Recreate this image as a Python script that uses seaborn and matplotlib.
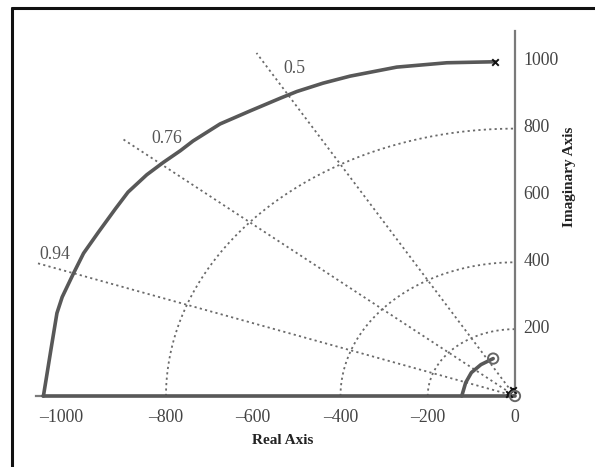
import numpy as np
import pandas as pd
import matplotlib
matplotlib.use("Agg")
import matplotlib.pyplot as plt
import seaborn as sns
from matplotlib.transforms import ScaledTranslation
from matplotlib.lines import Line2D

# ---- data ----
locus1_x = [-1081, -1075, -1064, -1050, -1038, -1012, -989, -955, -916, -887, -844, -806,
            -767, -738, -676, -607, -538, -500, -440, -378, -271, -156, -46]
locus1_y = [0, 48, 137, 248, 296, 367, 427, 490, 560, 610, 662, 699,
            734, 763, 814, 853, 891, 911, 936, 957, 984, 997, 1000]
real_locus_x = [-1081, 0]
real_locus_y = [0, 0]
locus2_x = [-122, -113, -100, -78, -50]
locus2_y = [0, 40, 70, 94, 112]
origin_locus_x = [-16, -10, -4]
origin_locus_y = [4, 12, 20]
poles_x = [-46, -14, -5]
poles_y = [1000, 6, 18]
zeros_x = [-50, 0]
zeros_y = [112, 0]
damping_ratios = [0.5, 0.76, 0.94]
damping_labels = ["0.5", "0.76", "0.94"]
damping_label_x = [-505, -797, -1054]
damping_label_y = [979, 770, 422]
wn_radii = [200, 400, 800]
xticks = [-1000, -800, -600, -400, -200, 0]
xtick_labels = ["\u20131000", "\u2013800", "\u2013600", "\u2013400", "\u2013200", "0"]
yticks = [200, 400, 600, 800, 1000]
ytick_labels = ["200", "400", "600", "800", "1000"]

sns.set_style("white")
plt.rcParams["font.family"] = ["Liberation Serif", "DejaVu Serif"]

fig = plt.figure(figsize=(5.95, 4.67), dpi=100)
ax = fig.add_axes([0.0605, 0.152, 0.805, 0.7816])

grid_col = "#6a6a6a"
dot_style = (0, (1.2, 1.8))

# natural-frequency arcs
t = np.linspace(0, np.pi / 2, 200)
for r in wn_radii:
    df = pd.DataFrame({"x": -r * np.cos(t), "y": r * np.sin(t)})
    sns.lineplot(data=df, x="x", y="y", sort=False, ax=ax, color=grid_col,
                 lw=1.3, linestyle=dot_style, estimator=None)

# damping rays
R = 1185
for z in damping_ratios:
    th = np.arccos(z)
    df = pd.DataFrame({"x": [0, -R * np.cos(th)], "y": [0, R * np.sin(th)]})
    sns.lineplot(data=df, x="x", y="y", sort=False, ax=ax, color=grid_col,
                 lw=1.3, linestyle=dot_style, estimator=None)
for lab, lx, ly in zip(damping_labels, damping_label_x, damping_label_y):
    ax.text(lx, ly, lab, fontsize=12.8, color="#555555", ha="center", va="center")

locus_col = "#585858"
for xs, ys in [(locus1_x, locus1_y), (real_locus_x, real_locus_y), (locus2_x, locus2_y)]:
    df = pd.DataFrame({"x": xs, "y": ys})
    sns.lineplot(data=df, x="x", y="y", sort=False, ax=ax, color=locus_col,
                 lw=2.6, estimator=None, clip_on=False, zorder=4)
df = pd.DataFrame({"x": origin_locus_x, "y": origin_locus_y})
sns.lineplot(data=df, x="x", y="y", sort=False, ax=ax, color="#111111",
             lw=2.2, estimator=None, clip_on=False, zorder=5)

# poles and zeros
ax.scatter(poles_x, poles_y, marker="x", s=22, color="#111111", linewidths=1.4,
           zorder=6, clip_on=False)
ax.scatter(zeros_x, zeros_y, marker="o", s=55, facecolors="none", edgecolors="#666666",
           linewidths=1.4, zorder=6, clip_on=False)

ax.set_xlim(-1098, 0)
ax.set_ylim(0, 1092)

for s in ["top", "left"]:
    ax.spines[s].set_visible(False)
for s in ["right", "bottom"]:
    ax.spines[s].set_color("#7a7a7a")
    ax.spines[s].set_linewidth(1.6)

ax.yaxis.tick_right()
ax.yaxis.set_label_position("right")
ax.set_xticks(xticks)
ax.set_xticklabels(xtick_labels)
ax.set_yticks(yticks)
ax.set_yticklabels(ytick_labels)
ax.tick_params(axis="x", length=3, width=1, color="#7a7a7a", pad=9, labelsize=12.8,
               labelcolor="#444444", direction="in")
ax.tick_params(axis="y", length=0, pad=6, labelsize=12.8, labelcolor="#444444")
for lab in ax.get_yticklabels():
    lab.set_transform(lab.get_transform() + ScaledTranslation(0, 3 / 100, fig.dpi_scale_trans))
xl = ax.get_xticklabels()
xl[0].set_transform(xl[0].get_transform() + ScaledTranslation(-18 / 100, 0, fig.dpi_scale_trans))

ax.set_xlabel("Real Axis", fontsize=11, fontweight="bold", color="#222222")
ax.set_ylabel("Imaginary Axis", fontsize=11, fontweight="bold", color="#222222", rotation=90)
ax.xaxis.set_label_coords(0.515, -0.105)
ax.yaxis.set_label_coords(1.10, 0.60)

# frame around the picture (top and left edges visible)
fig.add_artist(Line2D([12 / 595, 1.0], [1 - 8 / 467, 1 - 8 / 467], transform=fig.transFigure,
                      color="#111111", lw=2.2))
fig.add_artist(Line2D([12 / 595, 12 / 595], [0.0, 1 - 8 / 467], transform=fig.transFigure,
                      color="#111111", lw=2.2))

fig.savefig("out.png", dpi=100)
